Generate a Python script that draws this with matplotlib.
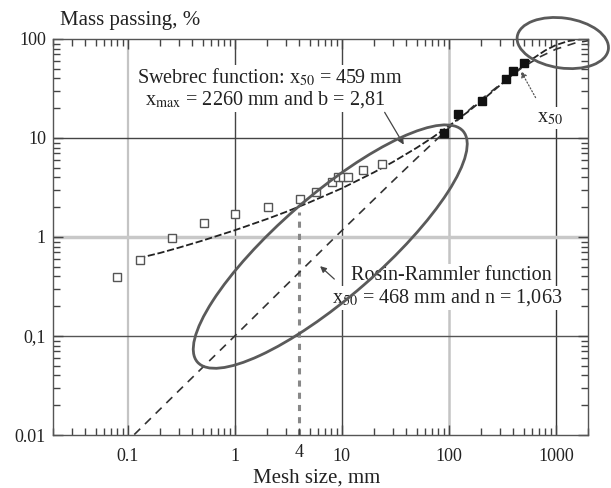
import matplotlib.pyplot as plt
from matplotlib.patches import Ellipse
from matplotlib.transforms import ScaledTranslation
from matplotlib.ticker import LogLocator, NullFormatter

plt.rcParams['font.family'] = ['Liberation Serif', 'DejaVu Serif']
plt.rcParams['mathtext.fontset'] = 'stix'

# sieved fines (open squares) and coarse fragments (filled squares)
fine_size = [0.079, 0.13, 0.26, 0.52, 1.0, 2.05, 4.1, 5.8, 8.1, 9.3, 10.3, 11.5, 15.9, 23.9]
fine_pass = [0.39, 0.59, 0.98, 1.38, 1.71, 2.01, 2.42, 2.85, 3.6, 4.0, 4.0, 4.0, 4.75, 5.46]
coarse_size = [90, 122, 204, 342, 397, 504]
coarse_pass = [11.2, 17.5, 23.7, 39.5, 47.6, 57.3]

# fitted curves
sweb_size = [0.125, 0.2, 0.3, 0.5, 1, 2, 3, 5, 10, 20, 30, 50, 70, 100, 150, 200, 300,
             400, 459, 600, 800, 1000, 1300, 1600, 2000]
sweb_pass = [0.61, 0.69, 0.78, 0.92, 1.17, 1.52, 1.79, 2.24, 3.1, 4.5, 5.72, 7.95, 10.07,
             13.2, 18.3, 23.5, 34.0, 44.2, 50, 62.6, 76.9, 86.8, 95.1, 98.7, 99.9]
rr_size = [0.115, 0.3, 1, 3, 10, 30, 50, 100, 200, 468, 700, 1000, 1500, 2000]
rr_pass = [0.0101, 0.028, 0.100, 0.323, 1.16, 3.67, 6.23, 12.6, 24.5, 50, 65.5, 78.8, 90.8, 96.1]

cut_size = 4
cut_top = 1.8

x_ticks = [0.1, 1, 10, 100, 1000]
x_labels = ['0.1', '1', '10', '100', '1000']
y_ticks = [0.01, 0.1, 1, 10, 100]
y_labels = ['0.01', '0,1', '1', '10', '100']

fig = plt.figure(figsize=(6.11, 4.88), dpi=100)
ax = fig.add_axes([0.0867, 0.1086, 0.8757, 0.8115])
ax.set_xscale('log')
ax.set_yscale('log')
ax.set_xlim(0.02, 2000)
ax.set_ylim(0.01, 100)

# grid lines, some dark and some light like the scanned original
for xv, c, w in [(0.1, '#c4c4c4', 1.6), (1, '#444444', 1.0), (10, '#444444', 1.0),
                 (100, '#c4c4c4', 1.8), (1000, '#333333', 1.0)]:
    ax.axvline(xv, color=c, lw=w, zorder=0.5)
for yv, c, w in [(10, '#444444', 1.0), (1, '#c8c8c8', 2.5), (0.1, '#555555', 1.0)]:
    ax.axhline(yv, color=c, lw=w, zorder=0.5)

ax.plot([cut_size, cut_size], [0.01, cut_top], color='#888888', lw=2.2,
        dashes=(2, 2), zorder=1)

ax.plot(sweb_size, sweb_pass, color='#222222', lw=1.3, dashes=(4, 1.5), zorder=2)
ax.plot(rr_size, rr_pass, color='#333333', lw=1.2, dashes=(5, 4), zorder=2)

ax.plot(fine_size, fine_pass, 's', ms=5.5, mfc='white', mec='#555555', mew=1.0, zorder=3)
ax.plot(coarse_size, coarse_pass, 's', ms=5.5, color='#111111', zorder=3)

ax.set_xticks(x_ticks, x_labels)
ax.set_yticks(y_ticks, y_labels)
ax.xaxis.set_minor_locator(LogLocator(base=10, subs=range(2, 10), numticks=20))
ax.yaxis.set_minor_locator(LogLocator(base=10, subs=range(2, 10), numticks=20))
ax.xaxis.set_minor_formatter(NullFormatter())
ax.yaxis.set_minor_formatter(NullFormatter())
ax.tick_params(which='both', direction='in', top=True, right=True, color='#444444',
               labelsize=13, labelcolor='#222222')
ax.tick_params(which='major', length=7, width=1)
ax.tick_params(which='minor', length=5, width=1)
ax.tick_params(axis='x', which='major', pad=9)
ax.tick_params(axis='y', which='major', pad=5)
for s in ax.spines.values():
    s.set_color('#555555')
    s.set_linewidth(1.0)

ax.text(cut_size, -0.045, '4', transform=ax.get_xaxis_transform(), ha='center',
        va='center', fontsize=13, color='#222222')

fig.text(130 / 611, 1 - 21 / 488, 'Mass passing, %', ha='center', va='center',
         fontsize=15, color='#222222')
fig.text(317 / 611, 1 - 478 / 488, 'Mesh size, mm', ha='center', va='center',
         fontsize=15, color='#222222')

box = dict(facecolor='white', edgecolor='none', pad=1)
ax.text(2.11, 41.3, r'Swebrec function: x$_{50}$ = 459 mm', ha='center', va='center',
        fontsize=14.5, color='#222222', bbox=box, zorder=4)
ax.text(1.94, 24.2, r'x$_{\rm max}$ = 2260 mm and b = 2,81', ha='center', va='center',
        fontsize=14.5, color='#222222', bbox=box, zorder=4)
ax.text(106, 0.413, 'Rosin-Rammler function', ha='center', va='center',
        fontsize=14.5, color='#222222', bbox=box, zorder=4)
ax.text(97, 0.242, r'x$_{50}$ = 468 mm and n = 1,063', ha='center', va='center',
        fontsize=14.5, color='#222222', bbox=box, zorder=4)
ax.text(880, 15.9, r'x$_{50}$', ha='center', va='center', fontsize=14.5,
        color='#222222', bbox=box, zorder=4)

arrow = dict(arrowstyle='-|>', color='#444444', lw=0.9, mutation_scale=9)
ax.annotate('', xy=(39.1, 8.11), xytext=(24.4, 19.2), arrowprops=arrow, zorder=4)
ax.annotate('', xy=(6.0, 0.53), xytext=(8.9, 0.36), arrowprops=arrow, zorder=4)
ax.annotate('', xy=(459, 50), xytext=(666, 24.2),
            arrowprops=dict(arrowstyle='-|>', color='#555555', lw=0.9, ls=':',
                            mutation_scale=9), zorder=4)

# highlight ellipses: centre in data units, size in inches
for xc, yc, w, h, ang in [(7.8, 0.80, 3.52, 1.02, 41), (1162, 91, 0.92, 0.50, -8)]:
    tr = fig.dpi_scale_trans + ScaledTranslation(xc, yc, ax.transData)
    fig.add_artist(Ellipse((0, 0), w, h, angle=ang, transform=tr, fill=False,
                           edgecolor='#5a5a5a', lw=2.0, clip_on=False))

fig.savefig('out.png', dpi=100)
